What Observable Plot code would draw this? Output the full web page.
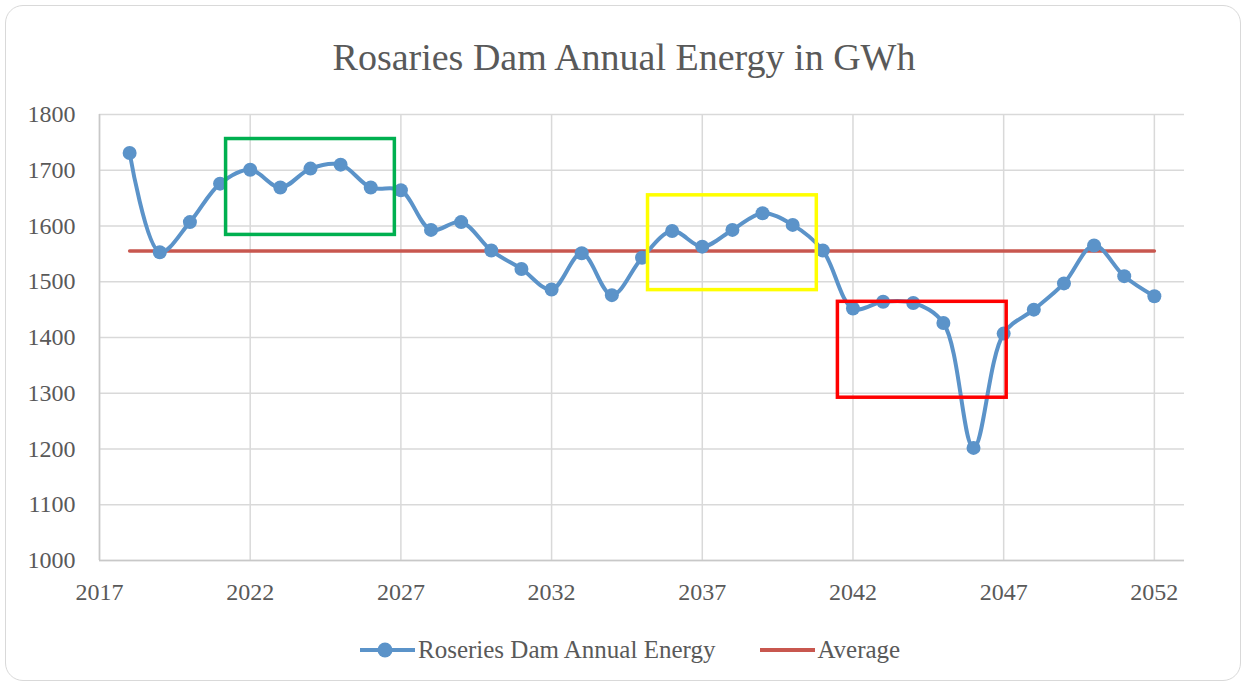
<!DOCTYPE html>
<html>
<head>
<meta charset="utf-8">
<script src="https://cdn.jsdelivr.net/npm/d3@7"></script>
<script src="https://cdn.jsdelivr.net/npm/@observablehq/plot@0.6"></script>
<style>
  html, body { margin: 0; padding: 0; background: #fff; }
  body { width: 1248px; height: 689px; position: relative; overflow: hidden; font-family: "Liberation Serif", "DejaVu Serif", serif; color: #595959; }
  #frame { position: absolute; left: 5px; top: 5px; width: 1236px; height: 676px; border: 1.5px solid #d9d9d9; border-radius: 18px; box-sizing: border-box; }
  #title { position: absolute; left: 0; width: 1248px; top: 34px; text-align: center; font-size: 38px; line-height: 46px; color: #595959; }
  #chart { position: absolute; left: 0; top: 0; }
  #legend { position: absolute; left: 360px; top: 635px; height: 30px; display: flex; align-items: center; font-size: 25px; color: #595959; white-space: nowrap; }
  .item { display: flex; align-items: center; }
</style>
</head>
<body>
<div id="frame"></div>
<div id="title">Rosaries Dam Annual Energy in GWh</div>
<div id="chart"></div>
<div id="legend">
  <div class="item"><svg width="55" height="16" style="margin-right:3px"><line x1="0" y1="8" x2="55" y2="8" stroke="#5B93C9" stroke-width="4"/><circle cx="25" cy="8" r="7.5" fill="#5B93C9"/></svg><span>Roseries Dam Annual Energy</span></div>
  <div class="item" style="margin-left:45px"><svg width="55" height="16" style="margin-right:2px"><line x1="0" y1="8" x2="55" y2="8" stroke="#C8574F" stroke-width="4"/></svg><span>Average</span></div>
</div>
<script>
// ---- data ----
const years = [2018,2019,2020,2021,2022,2023,2024,2025,2026,2027,
               2028,2029,2030,2031,2032,2033,2034,2035,2036,2037,
               2038,2039,2040,2041,2042,2043,2044,2045,2046,2047,
               2048,2049,2050,2051,2052];
const energy = [1731,1553,1607,1676,1701,1669,1703,1710,1669,1664,
                1593,1607,1556,1523,1486,1551,1476,1543,1591,1563,
                1593,1623,1602,1556,1452,1464,1462,1426,1202,1407,
                1450,1497,1565,1510,1474];
const averageValue = 1555;
const averageYears = [2018, 2052];
const xTicks = [2017, 2022, 2027, 2032, 2037, 2042, 2047, 2052];
const yTicks = [1000, 1100, 1200, 1300, 1400, 1500, 1600, 1700, 1800];
// highlight boxes (data coordinates): [yearStart, yearEnd, low, high]
const highlightRanges = [
  [2021.2, 2026.8, 1584, 1756],
  [2035.2, 2040.8, 1485, 1655],
  [2041.5, 2047.1, 1292, 1464]
];
const highlightColors = ["#00B050", "#FFFF00", "#FF0000"];

const series = years.map((y, i) => ({year: y, value: energy[i]}));
const average = averageYears.map(y => ({year: y, value: averageValue}));
const boxes = highlightRanges.map((r, i) => ({x1: r[0], x2: r[1], y1: r[2], y2: r[3], color: highlightColors[i]}));

const blue = "#5B93C9";
const red = "#C8574F";
const grid = "#d9d9d9";

const chart = Plot.plot({
  width: 1248,
  height: 689,
  marginLeft: 99,
  marginRight: 64,
  marginTop: 114,
  marginBottom: 129,
  style: {fontFamily: "'Liberation Serif', 'DejaVu Serif', serif", fontSize: "24px", color: "#595959", background: "transparent"},
  x: {domain: [2017, 2053], label: null},
  y: {domain: [1000, 1800], label: null},
  marks: [
    Plot.gridY(yTicks, {stroke: grid, strokeOpacity: 1, strokeWidth: 1.5}),
    Plot.gridX(xTicks, {stroke: grid, strokeOpacity: 1, strokeWidth: 1.5}),
    Plot.ruleY([1000], {stroke: "#c8c8c8", strokeWidth: 1.5}),
    Plot.ruleX([2017], {stroke: "#c8c8c8", strokeWidth: 1.5}),
    Plot.axisY({ticks: yTicks, tickSize: 0, tickPadding: 24, tickFormat: d => String(d), fill: "#595959", fontSize: 24}),
    Plot.axisX({ticks: xTicks, tickSize: 0, tickPadding: 22, tickFormat: d => String(d), fill: "#595959", fontSize: 24}),
    Plot.line(average, {x: "year", y: "value", stroke: red, strokeWidth: 3.5}),
    Plot.line(series, {x: "year", y: "value", stroke: blue, strokeWidth: 4, curve: "catmull-rom"}),
    Plot.dot(series, {x: "year", y: "value", r: 7, fill: blue, stroke: "none"}),
    Plot.rect(boxes, {x1: "x1", x2: "x2", y1: "y1", y2: "y2", fill: "none", stroke: "color", strokeWidth: 3.5})
  ]
});
document.getElementById("chart").appendChild(chart);
</script>
</body>
</html>
